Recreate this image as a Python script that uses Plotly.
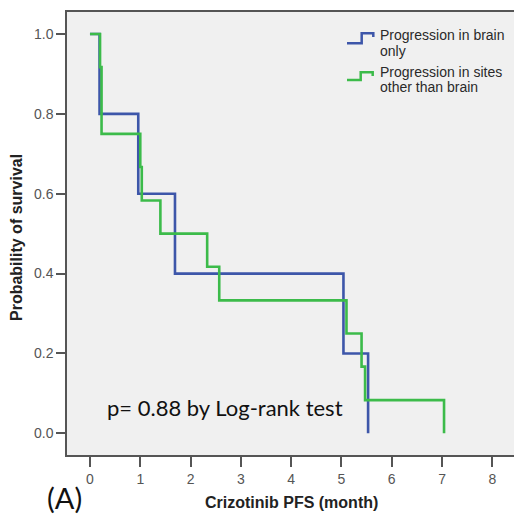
import plotly.graph_objects as go

# Kaplan-Meier step data (time in months, survival probability)
brain_time = [0.0, 0.19, 0.96, 1.69, 5.04, 5.53]
brain_surv = [1.0, 0.8, 0.6, 0.4, 0.2, 0.0]

other_time = [0.0, 0.20, 0.23, 1.00, 1.03, 1.40, 2.33, 2.57, 5.10, 5.40, 5.47, 7.04]
other_surv = [1.0, 0.917, 0.75, 0.667, 0.583, 0.5, 0.417, 0.333, 0.25, 0.167, 0.083, 0.0]

series_names = ["Progression in brain", "only", "Progression in sites", "other than brain"]
x_ticks = [0, 1, 2, 3, 4, 5, 6, 7, 8]
y_ticks = [0.0, 0.2, 0.4, 0.6, 0.8, 1.0]

BLUE = "#3D56A9"
GREEN = "#3CBB4A"
FRAME = "#555555"

W, H = 514, 517
L, R, T, B = 67, 0, 12, 62
PW, PH = W - L - R, H - T - B


def px(x):
    return (x - L) / PW


def py(y):
    return 1 - (y - T) / PH


fig = go.Figure()
fig.add_trace(go.Scatter(x=brain_time, y=brain_surv, mode="lines",
                         line=dict(color=BLUE, width=2.6, shape="hv"),
                         showlegend=False, hoverinfo="skip"))
fig.add_trace(go.Scatter(x=other_time, y=other_surv, mode="lines",
                         line=dict(color=GREEN, width=2.6, shape="hv"),
                         showlegend=False, hoverinfo="skip"))

shapes = []
# legend step icons
for color, pts in [
    (BLUE, [(347, 43.3), (361.7, 43.3), (361.7, 33.3), (373.3, 33.3), (373.3, 37)]),
    (GREEN, [(347, 80), (360.7, 80), (360.7, 72.3), (372.7, 72.3), (372.7, 76)]),
]:
    path = "M " + " L ".join(f"{px(a):.5f},{py(b):.5f}" for a, b in pts)
    shapes.append(dict(type="path", path=path, xref="paper", yref="paper",
                       line=dict(color=color, width=2.5)))

annotations = []
for text, yc in zip(series_names, [35, 50.5, 71.7, 86.7]):
    annotations.append(dict(text=text, x=px(378), y=py(yc), xref="paper", yref="paper",
                            xanchor="left", yanchor="middle", showarrow=False,
                            font=dict(family="Liberation Sans, Arial", size=14, color="#2a2a2a")))

annotations += [
    dict(text="p= 0.88 by Log-rank test", x=px(105), y=py(407), xref="paper", yref="paper",
         xanchor="left", yanchor="middle", showarrow=False,
         font=dict(family="Lato, Open Sans", size=22, color="#111111")),
    dict(text="(A)", x=px(45), y=py(517), xref="paper", yref="paper",
         xanchor="left", yanchor="bottom", showarrow=False,
         font=dict(family="Lato, Open Sans", size=29, color="#111111")),
    dict(text="<b>Crizotinib PFS (month)</b>", x=px(291), y=py(502), xref="paper", yref="paper",
         xanchor="center", yanchor="middle", showarrow=False,
         font=dict(family="Liberation Sans, Arial", size=16, color="#222222")),
    dict(text="<b>Probability of survival</b>", x=px(17), y=py(238), xref="paper", yref="paper",
         xanchor="center", yanchor="middle", showarrow=False, textangle=-90,
         font=dict(family="Liberation Sans, Arial", size=16, color="#222222")),
]

fig.update_layout(
    width=W, height=H,
    margin=dict(l=L, r=R, t=T, b=B, pad=0),
    paper_bgcolor="white",
    plot_bgcolor="#F0F0F0",
    shapes=shapes,
    annotations=annotations,
    xaxis=dict(range=[-0.457, 8.431], tickvals=x_ticks, ticktext=[str(v) for v in x_ticks],
               ticks="outside", ticklen=10, tickwidth=1.5, tickcolor=FRAME,
               showline=True, linecolor=FRAME, linewidth=1.5, mirror=True,
               showgrid=False, zeroline=False,
               tickfont=dict(family="Liberation Sans, Arial", size=14, color="#555555")),
    yaxis=dict(range=[-0.0543, 1.0551], tickvals=y_ticks, ticktext=[f"{v:.1f}" for v in y_ticks],
               ticks="outside", ticklen=9, tickwidth=1.5, tickcolor=FRAME,
               showline=True, linecolor=FRAME, linewidth=1.5,
               showgrid=False, zeroline=False,
               tickfont=dict(family="Liberation Sans, Arial", size=14, color="#555555")),
)

fig.write_html("out.html")
